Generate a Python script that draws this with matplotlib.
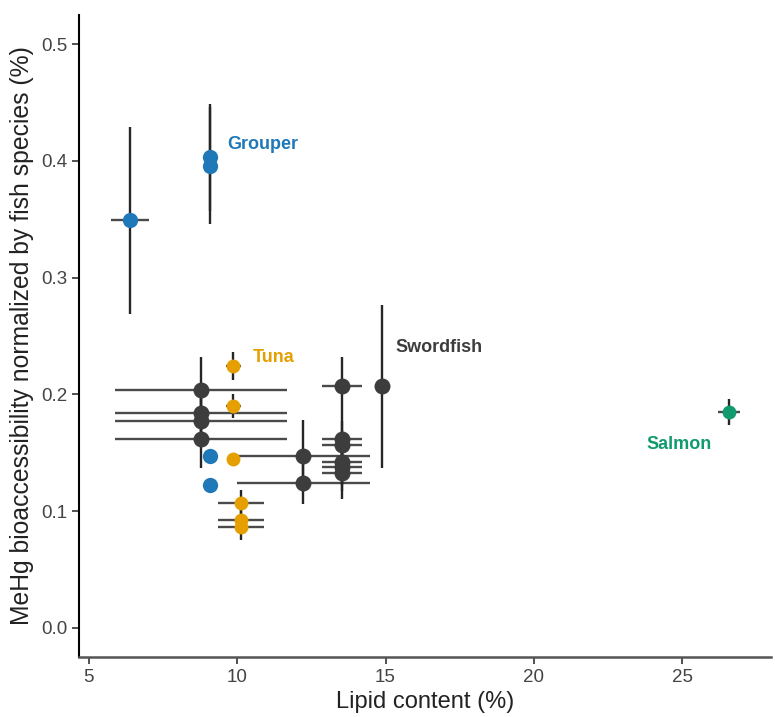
import matplotlib
matplotlib.use("Agg")
import matplotlib.pyplot as plt
import numpy as np

plt.rcParams['font.family'] = ['Liberation Sans', 'DejaVu Sans']

# ---- data ----
grouper_x = [6.40, 9.09, 9.09, 9.09, 9.09]
grouper_y = [0.349, 0.403, 0.396, 0.147, 0.122]
grouper_xerr = [0.64, 0.0, 0.0, 0.0, 0.0]
grouper_yerr = [0.080, 0.046, 0.050, 0.0, 0.0]

tuna_x = [9.87, 9.87, 9.87, 10.12, 10.12, 10.12]
tuna_y = [0.224, 0.190, 0.145, 0.107, 0.0925, 0.086]
tuna_xerr = [0.25, 0.25, 0.20, 0.78, 0.78, 0.78]
tuna_yerr = [0.012, 0.010, 0.005, 0.011, 0.010, 0.011]

sword_x = [8.78, 8.78, 8.78, 8.78, 12.23, 12.23,
           13.54, 13.54, 13.54, 13.54, 13.54, 13.54, 14.89]
sword_y = [0.204, 0.184, 0.177, 0.162, 0.147, 0.124,
           0.207, 0.162, 0.157, 0.142, 0.1375, 0.133, 0.207]
sword_xerr = [2.89, 2.89, 2.89, 2.89, 2.25, 2.25,
              0.67, 0.67, 0.67, 0.67, 0.67, 0.67, 0.0]
sword_yerr = [0.028, 0.020, 0.020, 0.025, 0.031, 0.018,
              0.025, 0.020, 0.020, 0.020, 0.020, 0.023, 0.070]

salmon_x = [26.56]
salmon_y = [0.185]
salmon_xerr = [0.37]
salmon_yerr = [0.011]

species = ["Grouper", "Tuna", "Swordfish", "Salmon"]
colors = {"Grouper": "#1f78b8", "Tuna": "#E69F00",
          "Swordfish": "#3d3d3d", "Salmon": "#119a6e"}
label_pos = {"Grouper": (9.68, 0.414), "Tuna": (10.52, 0.232),
             "Swordfish": (15.33, 0.240), "Salmon": (23.80, 0.157)}

data = {
    "Grouper": (grouper_x, grouper_y, grouper_xerr, grouper_yerr),
    "Tuna": (tuna_x, tuna_y, tuna_xerr, tuna_yerr),
    "Swordfish": (sword_x, sword_y, sword_xerr, sword_yerr),
    "Salmon": (salmon_x, salmon_y, salmon_xerr, salmon_yerr),
}
msize = {"Grouper": 11, "Tuna": 10, "Swordfish": 11.5, "Salmon": 10}

fig = plt.figure(figsize=(7.75, 7.17), dpi=100)
ax = fig.add_axes([0.1019, 0.0837, 0.8929, 0.8953])

for sp in species:
    x, y, xe, ye = data[sp]
    x = np.array(x); y = np.array(y); xe = np.array(xe); ye = np.array(ye)
    hm = xe > 0
    vm = ye > 0
    ax.hlines(y[hm], x[hm] - xe[hm], x[hm] + xe[hm], color="#4a4a4a",
              lw=1.7, zorder=2)
    ax.vlines(x[vm], y[vm] - ye[vm], y[vm] + ye[vm], color="#262626",
              lw=1.7, zorder=2)

for sp in species:
    x, y, xe, ye = data[sp]
    ax.plot(x, y, "o", color=colors[sp], ms=msize[sp], mec="none", zorder=3)
    lx, ly = label_pos[sp]
    ax.text(lx, ly, sp, color=colors[sp], fontsize=13, fontweight="bold",
            ha="left", va="center", zorder=4)

ax.set_xlim(4.67, 27.99)
ax.set_ylim(-0.025, 0.525)
ax.set_xticks([5, 10, 15, 20, 25])
ax.set_yticks([0.0, 0.1, 0.2, 0.3, 0.4, 0.5])
ax.set_yticklabels(["0.0", "0.1", "0.2", "0.3", "0.4", "0.5"])
ax.spines["top"].set_visible(False)
ax.spines["right"].set_visible(False)
ax.spines["left"].set_linewidth(1.5)
ax.spines["bottom"].set_linewidth(1.8)
ax.spines["bottom"].set_color("#555555")
ax.tick_params(axis="both", labelsize=13.5, labelcolor="#444444",
               length=5, width=1.2, color="#333333")
ax.set_xlabel("Lipid content (%)", fontsize=17, color="#222222", labelpad=4)
ax.set_ylabel("MeHg bioaccessibility normalized by fish species (%)",
              fontsize=17.8, color="#222222", labelpad=5)

fig.savefig("out.png", dpi=100)
